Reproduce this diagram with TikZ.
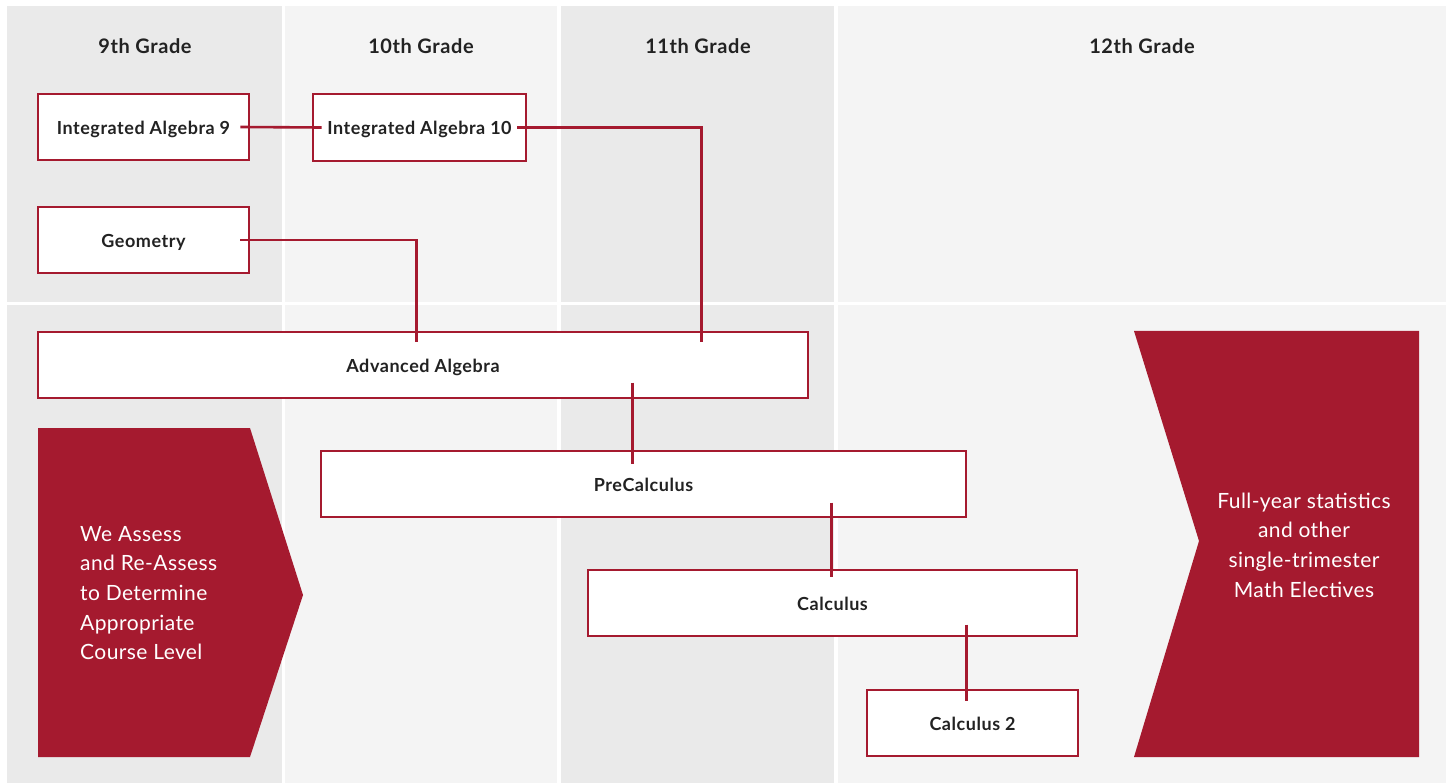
\documentclass[tikz,border=0pt]{standalone}
\usepackage{fontspec}
\setmainfont{Lato}
\newfontfamily\boldface[LetterSpace=3]{Lato Bold}
\newfontfamily\regface[LetterSpace=2]{Lato}
\usetikzlibrary{calc}
\definecolor{crimson}{HTML}{A51A2F}
\definecolor{colA}{HTML}{EAEAEA}
\definecolor{colB}{HTML}{F4F4F4}
\definecolor{ink}{HTML}{222222}
\tikzset{
  header/.style={font=\boldface\fontsize{20}{22}\selectfont, text=ink},
  course/.style={draw=crimson, line width=2.6pt, fill=white, inner sep=0pt,
     font=\boldface\fontsize{18}{20}\selectfont, text=ink,
     text height=14.5pt, text depth=0pt},
  conn/.style={draw=crimson, line width=2.6pt},
  bigshape/.style={fill=crimson, draw=none},
  bigtext/.style={text=white, font=\regface\fontsize{21}{29.7}\selectfont, inner sep=0pt},
}
\begin{document}
\begin{tikzpicture}[x=1pt,y=-1pt]
\useasboundingbox (0,0) rectangle (1451,783);
\fill[white] (0,0) rectangle (1451,783);
% column bands
\fill[colA] (7,6) rectangle (282,302);
\fill[colB] (285,6) rectangle (557,302);
\fill[colA] (561,6) rectangle (834,302);
\fill[colB] (838,6) rectangle (1446,302);
\fill[colA] (7,305) rectangle (282,783);
\fill[colB] (285,305) rectangle (557,783);
\fill[colA] (561,305) rectangle (834,783);
\fill[colB] (838,305) rectangle (1446,783);
% headers
\node[header] (h9) at (145,46) {9th Grade};
\node[header] (h10) at (421,46) {10th Grade};
\node[header] (h11) at (698,46) {11th Grade};
\node[header] (h12) at (1142,46) {12th Grade};
% big shapes
\fill[bigshape] (38,428) -- (250,428) -- (303,595) -- (250,757) -- (38,757) -- cycle;
\node[bigtext, align=left, anchor=west] (assess) at (80,593)
  {We Assess\\and Re-Assess\\to Determine\\Appropriate\\Course Level};
\fill[bigshape] (1134,331) -- (1419,331) -- (1419,757) -- (1134,757) -- (1199,541) -- cycle;
\node[bigtext, align=center] (elect) at (1304,545)
  {Full-year statistics\\and other\\single-trimester\\Math Electives};
% course boxes
\node[course, minimum width=211pt, minimum height=66pt] (ia9) at (143.5,127) {Integrated Algebra 9\hspace{8pt}};
\node[course, minimum width=213pt, minimum height=67pt] (ia10) at (419.5,127.5) {Integrated Algebra 10};
\node[course, minimum width=211pt, minimum height=66pt] (geo) at (143.5,240) {Geometry\hspace{8pt}};
\node[course, minimum width=770pt, minimum height=66pt] (adv) at (423,365) {Advanced Algebra\hspace{10pt}};
\node[course, minimum width=645pt, minimum height=66pt] (pre) at (643.5,484) {PreCalculus\hspace{18pt}};
\node[course, minimum width=489pt, minimum height=66pt] (calc) at (832.5,603) {Calculus};
\node[course, minimum width=211pt, minimum height=66pt] (calc2) at (972.5,723) {Calculus 2};
% connectors
\draw[conn] ([xshift=-10pt]ia9.east) -- ([xshift=10pt]ia10.west);
\draw[conn] ([xshift=-10pt]ia10.east) -| ($(adv.north west)+(665,11)$);
\draw[conn] ([xshift=-10pt]geo.east) -| ($(adv.north west)+(380,11)$);
\draw[conn] ($(pre.north west)+(313,-67)$) -- ($(pre.north west)+(313,14)$);
\draw[conn] ($(calc.north west)+(245,-66)$) -- ($(calc.north west)+(245,8)$);
\draw[conn] ($(calc2.north west)+(101,-64)$) -- ($(calc2.north west)+(101,12)$);
\end{tikzpicture}
\end{document}
